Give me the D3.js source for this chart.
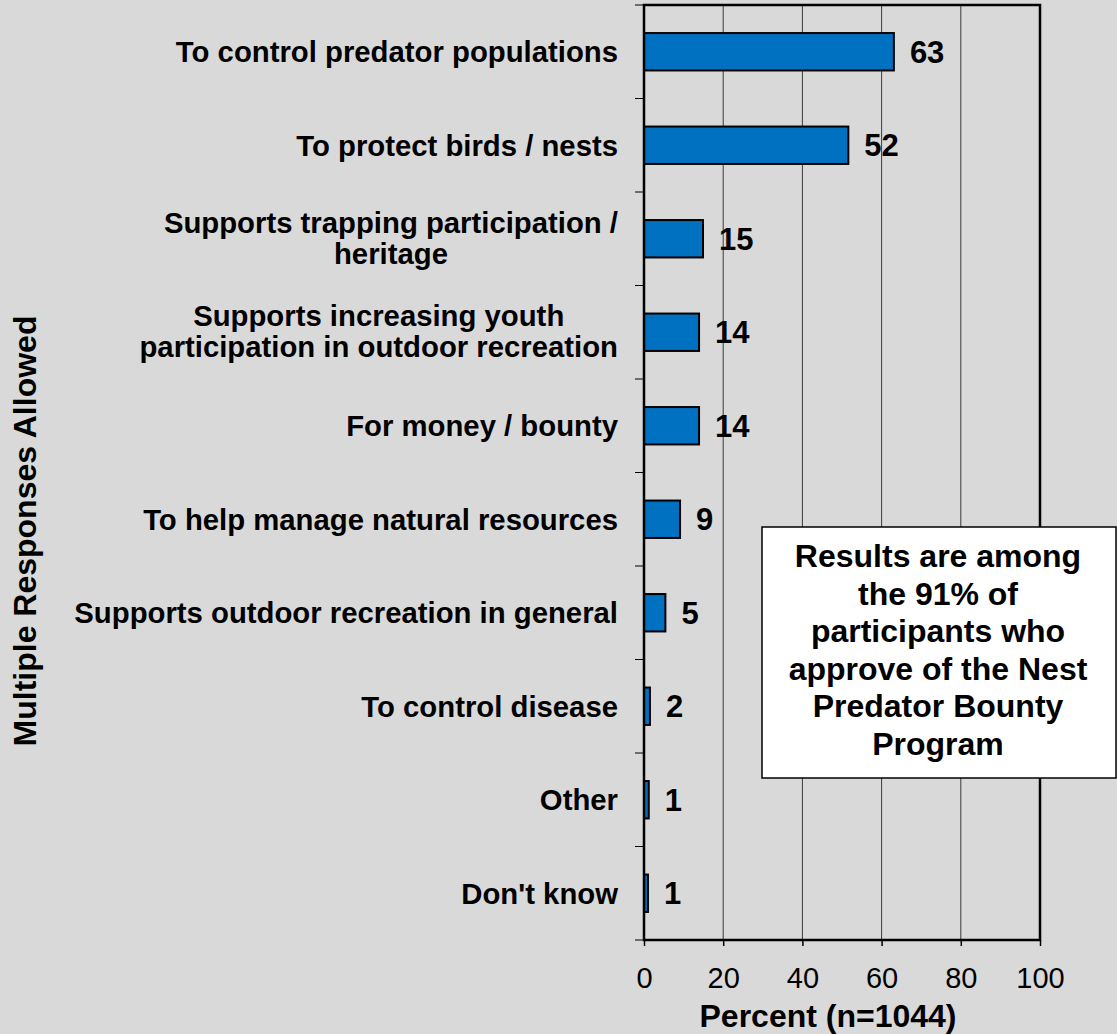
<!DOCTYPE html>
<html><head><meta charset="utf-8">
<script src="https://cdn.jsdelivr.net/npm/d3@7"></script>
<style>
html,body{margin:0;padding:0;background:#d9d9d9;}
svg{display:block;font-family:"Liberation Sans",Arial,sans-serif;}
</style></head><body>
<svg id="chart" width="1117" height="1034"></svg>
<script>
const categories = [
  ["To control predator populations"],
  ["To protect birds / nests"],
  ["Supports trapping participation /", "heritage"],
  ["Supports increasing youth", "participation in outdoor recreation"],
  ["For money / bounty"],
  ["To help manage natural resources"],
  ["Supports outdoor recreation in general"],
  ["To control disease"],
  ["Other"],
  ["Don't know"]
];
const values = [63.1, 51.6, 14.9, 13.9, 13.9, 9.1, 5.4, 1.5, 1.2, 1.0];
const valueLabels = ["63", "52", "15", "14", "14", "9", "5", "2", "1", "1"];
const xTicks = [0, 20, 40, 60, 80, 100];
const xTitle = "Percent (n=1044)";
const yTitle = "Multiple Responses Allowed";
const noteLines = ["Results are among", "the 91% of", "participants who", "approve of the Nest", "Predator Bounty", "Program"];

const svg = d3.select("#chart");
const W = 1117, H = 1034;
const m = {left: 644, top: 5, right: 77, bottom: 94};
const pw = W - m.left - m.right, ph = H - m.top - m.bottom;

svg.append("rect").attr("width", W).attr("height", H).attr("fill", "#d9d9d9");

const x = d3.scaleLinear().domain([0, 100]).range([m.left, m.left + pw]);
const y = d3.scaleBand().domain(d3.range(categories.length)).range([m.top, m.top + ph]).paddingInner(0.6).paddingOuter(0.3);
const yb = d3.scaleBand().domain(d3.range(categories.length)).range([m.top, m.top + ph]);

// gridlines
svg.append("g").selectAll("line").data(xTicks.filter(t => t > 0 && t < 100)).join("line")
  .attr("x1", d => x(d)).attr("x2", d => x(d)).attr("y1", m.top).attr("y2", m.top + ph)
  .attr("stroke", "#3a3a3a").attr("stroke-width", 1);

// bars
svg.append("g").selectAll("rect").data(values).join("rect")
  .attr("x", x(0)).attr("y", (d, i) => y(i)).attr("width", d => x(d) - x(0)).attr("height", y.bandwidth())
  .attr("fill", "#0070c0").attr("stroke", "#000").attr("stroke-width", 2);

// plot border
svg.append("rect").attr("x", m.left).attr("y", m.top).attr("width", pw).attr("height", ph)
  .attr("fill", "none").attr("stroke", "#000").attr("stroke-width", 2.5);

// y tick marks at band boundaries
const yTickPos = d3.range(categories.length + 1).map(i => i < categories.length ? yb(i) : yb(i - 1) + yb.bandwidth());
svg.append("g").selectAll("line").data(yTickPos).join("line")
  .attr("x1", m.left - 9).attr("x2", m.left).attr("y1", d => d).attr("y2", d => d)
  .attr("stroke", "#000").attr("stroke-width", 1);

// x axis ticks + labels
const xa = svg.append("g").attr("transform", `translate(0,${m.top + ph})`)
  .call(d3.axisBottom(x).tickValues(xTicks).tickSize(6).tickPadding(21).tickFormat(d3.format("d")));
xa.select(".domain").remove();
xa.selectAll(".tick line").attr("stroke", "#000").attr("stroke-width", 1.5);
xa.selectAll(".tick text").attr("font-size", 29).attr("font-family", "Liberation Sans, Arial, sans-serif").attr("fill", "#000");

// category labels
const catG = svg.append("g");
categories.forEach((lines, i) => {
  const cy = yb(i) + yb.bandwidth() / 2;
  const lh = 31;
  const shift = lines.length > 1 ? -1 : 0;
  const g = catG.append("g");
  const texts = lines.map((ln, j) => g.append("text")
    .attr("y", cy + (j - (lines.length - 1) / 2) * lh + shift)
    .attr("dy", "0.35em")
    .attr("font-size", 29.3).attr("font-weight", "bold").attr("fill", "#000")
    .text(ln));
  const widths = texts.map(t => t.node().getComputedTextLength());
  const maxW = Math.max(...widths);
  const right = m.left - 26;
  texts.forEach(t => t.attr("x", right - maxW / 2).attr("text-anchor", "middle"));
});

// value labels
svg.append("g").selectAll("text").data(values).join("text")
  .attr("x", d => x(d) + 16).attr("y", (d, i) => y(i) + y.bandwidth() / 2).attr("dy", "0.36em")
  .attr("font-size", 31).attr("font-weight", "bold").attr("fill", "#000")
  .text((d, i) => valueLabels[i]);

// axis titles
svg.append("text").attr("x", 828).attr("y", 1027).attr("text-anchor", "middle")
  .attr("font-size", 32).attr("font-weight", "bold").text(xTitle);
svg.append("text").attr("transform", `translate(36,${531}) rotate(-90)`).attr("text-anchor", "middle")
  .attr("font-size", 32).attr("font-weight", "bold").text(yTitle);

// note box
const bx = 762, by = 527, bw = 354, bh = 251;
svg.append("rect").attr("x", bx).attr("y", by).attr("width", bw).attr("height", bh)
  .attr("fill", "#fff").attr("stroke", "#000").attr("stroke-width", 1.5);
svg.append("g").selectAll("text").data(noteLines).join("text")
  .attr("x", bx + bw / 2 - 1).attr("y", (d, i) => by + 40 + i * 37.6).attr("text-anchor", "middle")
  .attr("font-size", 32).attr("font-weight", "bold").text(d => d);
</script>
</body></html>
